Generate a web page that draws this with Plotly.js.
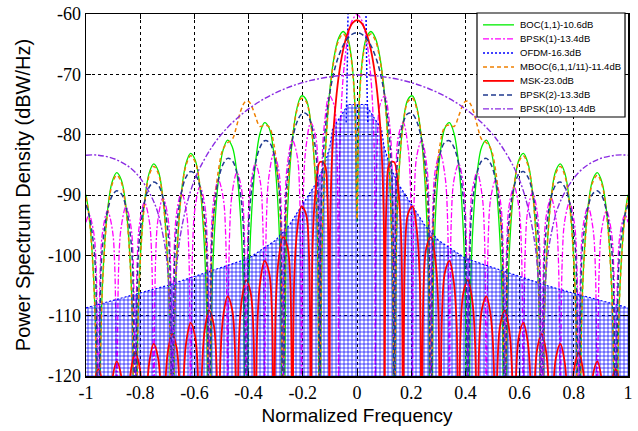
<!DOCTYPE html>
<html>
<head>
<meta charset="utf-8">
<script src="https://cdn.plot.ly/plotly-3.0.1.min.js"></script>
<style>html,body{margin:0;padding:0;background:#fff;}#chart{width:638px;height:431px;}</style>
</head>
<body>
<div id="chart"></div>
<script>
// ---- Data (positive-frequency half; the spectra are symmetric about 0) ----
// Shared frequency grid for BOC(1,1), MBOC and BPSK(2)
const fBoc = [0, .0068, .0136, .0239, .0341, .0512, .0682, .0853, .1023, .1159, .1262, .1330, .1364,
  .1466, .1569, .1705, .1876, .2046, .2217, .2387, .2523, .2626, .2728,
  .2830, .2933, .3069, .3240, .3410, .3581, .3751, .3887, .3990, .4092,
  .4194, .4297, .4433, .4604, .4774, .4945, .5115, .5251, .5354, .5456,
  .5558, .5661, .5797, .5968, .6138, .6309, .6479, .6615, .6718, .6820,
  .6922, .7025, .7161, .7332, .7502, .7673, .7843, .7979, .8082, .8184,
  .8286, .8389, .8525, .8696, .8866, .9037, .9207, .9343, .9446, .9548,
  .9650, .9753, .9889, 1.0];

const boc11 = [-94.5, -76.25, -70.44, -66.18, -64.02, -62.9, -64.02, -67.34, -73.56, -82.35, -94.64, -114, -170,
  -95.95, -84.97, -78.0, -74.18, -73.56, -75.63, -80.92, -89.1, -101.0, -170,
  -101.66, -90.41, -83.1, -78.93, -78.0, -79.8, -84.85, -92.86, -104.64, -170,
  -105.08, -93.73, -86.3, -81.99, -80.92, -82.6, -87.54, -95.47, -107.2, -170,
  -107.52, -96.12, -88.63, -84.24, -83.1, -84.72, -89.59, -97.48, -109.17, -170,
  -109.43, -98.0, -90.46, -86.03, -84.85, -86.42, -91.25, -99.1, -110.77, -170,
  -110.99, -99.54, -91.98, -87.5, -86.3, -87.84, -92.65, -100.47, -112.13, -170,
  -112.32, -100.85, -93.27, -89.95];

const mboc = [-94, -76.65, -70.84, -66.58, -64.43, -63.31, -64.43, -67.75, -73.9, -82.4, -93.34, -106.6, -170,
  -94.06, -84.66, -78.17, -74.54, -73.97, -75.95, -80.65, -86.93, -94.1, -170,
  -93.47, -86.51, -81.52, -78.73, -78.41, -78.64, -76.92, -75.27, -74.53, -74.43,
  -74.98, -76.13, -78.4, -80.8, -81.33, -82.41, -85.95, -91.59, -98.98, -170,
  -100.62, -93.94, -88.35, -84.56, -83.51, -85.08, -89.75, -97.17, -107.31, -170,
  -108.14, -98.05, -90.8, -86.44, -85.26, -86.83, -91.65, -99.5, -111.2, -170,
  -111.4, -99.95, -92.39, -87.91, -86.71, -88.25, -93.06, -100.88, -112.54, -170,
  -112.73, -101.26, -93.5, -90.36];

const bpsk2 = [-63.11, -63.15, -63.25, -63.55, -64.02, -65.22, -67.03, -69.66, -73.56, -78.5, -85.0, -94.9, -170,
  -86.32, -81.12, -78.0, -76.5, -76.57, -77.95, -80.92, -85.25, -91.37, -170,
  -92.03, -86.56, -83.1, -81.25, -81.01, -82.12, -84.85, -89.01, -95.01, -170,
  -95.45, -89.88, -86.3, -84.31, -83.93, -84.92, -87.54, -91.62, -97.57, -170,
  -97.89, -92.27, -88.63, -86.56, -86.11, -87.04, -89.59, -93.63, -99.54, -170,
  -99.8, -94.15, -90.46, -88.35, -87.86, -88.74, -91.25, -95.25, -101.14, -170,
  -101.36, -95.69, -91.98, -89.82, -89.31, -90.16, -92.65, -96.62, -102.5, -170,
  -102.69, -97.0, -93.27, -91.66];

// BPSK(1)
const fB1 = [0, .0171, .0341, .0512, .0614, .0648, .0682,
  .0750, .0853, .1023, .1194, .1296, .1364,
  .1432, .1535, .1705, .1876, .1978, .2046,
  .2114, .2217, .2387, .2558, .2660, .2728,
  .2796, .2899, .3069, .3240, .3342, .3410,
  .3478, .3581, .3751, .3922, .4024, .4092,
  .4160, .4263, .4433, .4604, .4706, .4774,
  .4842, .4945, .5115, .5286, .5388, .5456,
  .5524, .5627, .5797, .5968, .6070, .6138,
  .6206, .6309, .6479, .6650, .6752, .6820,
  .6888, .6991, .7161, .7332, .7434, .7502,
  .7570, .7673, .7843, .8014, .8116, .8184,
  .8252, .8355, .8525, .8696, .8798, .8866,
  .8934, .9037, .9207, .9378, .9480, .9548,
  .9616, .9719, .9889, 1.0];
const bpsk1 = [-60.1, -61.01, -64.02, -70.55, -79.3, -85.7, -170,
  -81.07, -74.99, -73.56, -77.91, -85.82, -170,
  -86.68, -80.09, -78.0, -81.84, -89.49, -170,
  -90.07, -83.29, -80.92, -84.53, -92.06, -170,
  -92.5, -85.62, -83.1, -86.58, -94.04, -170,
  -94.39, -87.45, -84.85, -88.24, -95.66, -170,
  -95.95, -88.97, -86.3, -89.64, -97.02, -170,
  -97.27, -90.26, -87.54, -90.84, -98.19, -170,
  -98.41, -91.38, -88.63, -91.89, -99.23, -170,
  -99.42, -92.37, -89.59, -92.83, -100.15, -170,
  -100.33, -93.26, -90.46, -93.68, -100.99, -170,
  -101.15, -94.07, -91.25, -94.45, -101.75, -170,
  -101.9, -94.81, -91.98, -95.16, -102.45, -170,
  -102.59, -95.49, -92.65, -95.82, -103.1, -170,
  -103.22, -96.13, -93.27, -94.51];

// MSK
const fMsk = [0, .0171, .0341, .0512, .0682, .0818, .0887, .0955, .0996, .1023,
  .1091, .1200, .1364, .1528, .1637, .1705,
  .1773, .1882, .2046, .2210, .2319, .2387,
  .2455, .2564, .2728, .2892, .3001, .3069,
  .3137, .3246, .3410, .3574, .3683, .3751,
  .3819, .3928, .4092, .4256, .4365, .4433,
  .4501, .4610, .4774, .4938, .5047, .5115,
  .5183, .5292, .5456, .5620, .5729, .5797,
  .5865, .5974, .6138, .6302, .6411, .6479,
  .6547, .6656, .6820, .6984, .7093, .7161,
  .7229, .7338, .7502, .7666, .7775, .7843,
  .7911, .8020, .8184, .8348, .8457, .8525,
  .8593, .8702, .8866, .9030, .9139, .9207,
  .9275, .9384, .9548, .9712, .9821, .9889,
  1.0];
const msk = [-61.0, -61.5, -63.1, -65.95, -70.55, -76.4, -80.8, -87.9, -96.6, -170,
  -90.51, -84.88, -84.52, -89.36, -98.06, -170,
  -99.51, -93.14, -91.88, -96.0, -104.31, -170,
  -105.32, -98.64, -96.99, -100.76, -108.87, -170,
  -109.65, -102.8, -100.91, -104.49, -112.46, -170,
  -113.1, -106.14, -104.11, -107.54, -115.44, -170,
  -115.97, -108.94, -106.8, -110.14, -117.97, -170,
  -118.44, -111.35, -109.13, -112.4, -120.18, -170,
  -120.59, -113.46, -111.18, -114.39, -122.14, -170,
  -122.51, -115.35, -113.02, -116.18, -123.9, -170,
  -124.23, -117.04, -114.68, -117.8, -125.5, -170,
  -126.0, -118.59, -116.19, -119.29, -127.0, -170,
  -127.3, -120.0, -117.59, -120.65, -128.5, -170,
  -128.6, -121.33, -118.88, -121.92, -129.7, -170,
  -126.0];

// BPSK(10)
const fB10 = [0, .0682, .1705, .2558, .3410, .4263, .5115, .5797, .6138, .6479, .6684, .6820,
  .6956, .7161, .7502, .8184, .8866, .9548, 1.0];
const bpsk10 = [-70.1, -70.24, -71.01, -72.21, -74.02, -76.65, -80.55, -85.48, -89.32, -95.7, -103.9, -170,
  -104.3, -96.6, -91.07, -86.24, -84.16, -83.4, -83.4];

// OFDM: upper edge of the dense ripple band, its floor, and the narrow main lobe
const fOfdm = [0, .036, .04, .06, .09, .10, .12, .15, .20, .25, .30, .35, .40, .50, .60, .70, .80, .90, 1.0];
const ofdmTop = [-75, -75, -75.5, -77, -79, -82, -85, -88, -91.5, -95, -97.5, -99, -100.5, -102, -103.5, -105, -106.3, -107.5, -108.7];
const ofdmFloor = [-121, -121, -121, -121, -121, -121, -121, -121, -121, -121, -121, -121, -121, -121, -121, -121, -121, -121, -121];
const fOfdmLobe = [0, .030, .033, .035, .037, .040];
const ofdmLobe = [-57, -57, -60, -66, -72, -78];

const names = ['BOC(1,1)-10.6dB', 'BPSK(1)-13.4dB', 'OFDM-16.3dB', 'MBOC(6,1,1/11)-11.4dB', 'MSK-23.0dB', 'BPSK(2)-13.3dB', 'BPSK(10)-13.4dB'];
const xTickVals = [-1, -0.8, -0.6, -0.4, -0.2, 0, 0.2, 0.4, 0.6, 0.8, 1];
const xTickText = ['-1', '-0.8', '-0.6', '-0.4', '-0.2', '0', '0.2', '0.4', '0.6', '0.8', '1'];
const yTickVals = [-120, -110, -100, -90, -80, -70, -60];
const yTickText = ['-120', '-110', '-100', '-90', '-80', '-70', '-60'];

// ---- styles (one per series, legend order) ----
const colors = ['#00ee00', '#ff00ff', '#0000ff', '#f08000', '#ff0000', '#203a8f', '#8a2be2'];
const widths = [1.3, 1.3, 1.5, 1.5, 1.8, 1.5, 1.4];
const dashes = ['solid', '6px,2px,2px,2px', '2px,2px', '4px,3px', 'solid', '5px,3px', '6px,2px,2px,2px'];

// ---- build symmetric traces ----
function mirror(xs, ys) {
  const x = [], y = [];
  for (let i = xs.length - 1; i > 0; i--) { x.push(-xs[i]); y.push(ys[i]); }
  for (let i = 0; i < xs.length; i++) { x.push(xs[i]); y.push(ys[i]); }
  return {x, y};
}
function line(xs, ys, k) {
  const m = mirror(xs, ys);
  return {type: 'scatter', mode: 'lines', x: m.x, y: m.y, name: names[k], showlegend: false,
    line: {color: colors[k], width: widths[k], dash: dashes[k], shape: 'spline', smoothing: 1}, hoverinfo: 'skip'};
}
const floorM = mirror(fOfdm, ofdmFloor);
const topM = mirror(fOfdm, ofdmTop);

const traces = [
  line(fBoc, boc11, 0),
  line(fB1, bpsk1, 1),
  {type: 'scatter', mode: 'lines', x: floorM.x, y: floorM.y, line: {width: 0, color: 'rgba(0,0,0,0)'}, showlegend: false, hoverinfo: 'skip'},
  {type: 'scatter', mode: 'lines', x: topM.x, y: topM.y, fill: 'tonexty', fillcolor: 'rgba(0,0,0,0)',
   fillpattern: {shape: '+', fgcolor: '#0000ff', bgcolor: 'rgba(0,0,0,0)', size: 4, solidity: 0.32},
   line: {width: 1.2, color: '#0000ff', dash: '2px,2px'}, showlegend: false, hoverinfo: 'skip'},
  line(fOfdmLobe, ofdmLobe, 2),
  line(fBoc, mboc, 3),
  line(fMsk, msk, 4),
  line(fBoc, bpsk2, 5),
  line(fB10, bpsk10, 6)
];

// ---- legend box (compact, as in the original figure) ----
const legX0 = 0.7214, legX1 = 0.9945, legY0 = 0.7155, legY1 = 1.0028;
const rowTop = 0.9700, rowStep = 0.0387, sampleX0 = 0.7325, sampleX1 = 0.7897, textX = 0.7970;
const shapes = [{type: 'rect', xref: 'paper', yref: 'paper', x0: legX0, x1: legX1, y0: legY0, y1: legY1,
  fillcolor: '#fff', line: {color: '#000', width: 1.2}, layer: 'above'}];
const annotations = [];
names.forEach((nm, k) => {
  const yy = rowTop - k * rowStep;
  shapes.push({type: 'line', xref: 'paper', yref: 'paper', x0: sampleX0, x1: sampleX1, y0: yy, y1: yy,
    line: {color: colors[k], width: widths[k], dash: dashes[k]}, layer: 'above'});
  annotations.push({xref: 'paper', yref: 'paper', x: textX, y: yy, xanchor: 'left', yanchor: 'middle',
    text: nm, showarrow: false, font: {family: '"Liberation Sans", Arial, sans-serif', size: 9.5, color: '#000'}});
});

const axisCommon = {
  showline: true, linecolor: '#000', linewidth: 1.5, mirror: 'ticks',
  ticks: 'inside', ticklen: 5, tickcolor: '#000',
  showgrid: true, gridcolor: '#000', gridwidth: 1, griddash: '3px,3px',
  zeroline: false, tickmode: 'array',
  tickfont: {family: '"Liberation Serif", "Times New Roman", serif', size: 18, color: '#000'}
};

const layout = {
  width: 638, height: 431,
  margin: {l: 86, r: 10, t: 14, b: 55},
  paper_bgcolor: '#fff', plot_bgcolor: '#fff',
  showlegend: false,
  xaxis: Object.assign({}, axisCommon, {range: [-1, 1], tickvals: xTickVals, ticktext: xTickText,
    title: {text: 'Normalized Frequency', font: {family: '"Liberation Sans", Arial, sans-serif', size: 19, color: '#000'}, standoff: 6}}),
  yaxis: Object.assign({}, axisCommon, {range: [-120, -60], tickvals: yTickVals, ticktext: yTickText,
    title: {text: 'Power Spectrum Density (dBW/Hz)', font: {family: '"Liberation Sans", Arial, sans-serif', size: 20, color: '#000'}, standoff: 12}}),
  shapes: shapes,
  annotations: annotations,
  hovermode: false
};

Plotly.newPlot('chart', traces, layout, {staticPlot: true, displayModeBar: false});
</script>
</body>
</html>
